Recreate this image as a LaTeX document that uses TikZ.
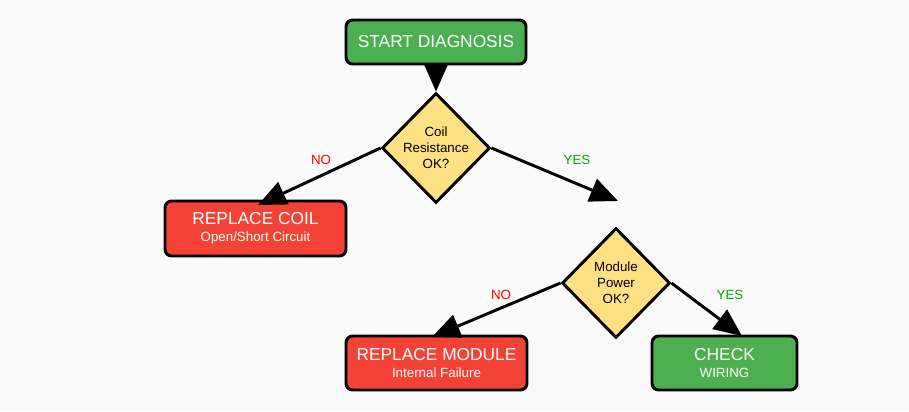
\documentclass[tikz,border=0pt]{standalone}
\usepackage{fontspec}
\setmainfont{Liberation Sans}
\usetikzlibrary{arrows.meta,shapes.geometric}
\definecolor{bg}{HTML}{FAFAFA}
\definecolor{grn}{HTML}{4CAF50}
\definecolor{rd}{HTML}{F44336}
\definecolor{yl}{HTML}{FFE082}
\definecolor{yes}{HTML}{00AA00}
\begin{document}
\begin{tikzpicture}[x=0.75pt,y=-0.75pt,
  box/.style={draw=black,line width=2.2pt,rounded corners=5pt,text=white,align=center,inner sep=0pt},
  dia/.style={draw=black,line width=2.2pt,fill=yl,diamond,minimum width=108*0.75pt,minimum height=110*0.75pt,inner sep=0pt,align=center,font=\fontsize{10}{12}\selectfont},
  arr/.style={line width=2.2pt,-{Triangle[length=21pt,width=18pt]}},
  lab/.style={font=\fontsize{10}{12}\selectfont}]
\fill[bg] (0,0) rectangle (909,411);
\node[box,fill=grn,minimum width=180*0.75pt,minimum height=44*0.75pt,font=\fontsize{13}{15}\selectfont] (start) at (436,42) {START DIAGNOSIS};
\node[dia] (d1) at (436,148) {Coil\\Resistance\\OK?};
\node[box,fill=rd,minimum width=181*0.75pt,minimum height=55*0.75pt] (coil) at (255.5,228.5) {{\fontsize{13}{15}\selectfont REPLACE COIL}\\[1pt]{\fontsize{10}{12}\selectfont Open/Short Circuit}};
\node[dia] (d2) at (616,283) {Module\\Power\\OK?};
\node[box,fill=rd,minimum width=181*0.75pt,minimum height=54*0.75pt] (mod) at (436.5,363) {{\fontsize{13}{15}\selectfont REPLACE MODULE}\\[1pt]{\fontsize{10}{12}\selectfont Internal Failure}};
\node[box,fill=grn,minimum width=145*0.75pt,minimum height=54*0.75pt] (chk) at (724.5,363) {{\fontsize{13}{15}\selectfont CHECK}\\[1pt]{\fontsize{10}{12}\selectfont WIRING}};
\coordinate (yesend) at (618,201);
\draw[arr] (start.south) -- (d1.north);
\draw[arr] (d1.west) -- (258,205);
\draw[arr] (d1.east) -- (yesend);
\draw[arr] (d2.west) -- (432,337);
\draw[arr] (d2.east) -- (742,336);
\node[lab,text=red] (n1) at (321,160) {NO};
\node[lab,text=yes] (y1) at (577,160) {YES};
\node[lab,text=red] (n2) at (501,295) {NO};
\node[lab,text=yes] (y2) at (730,295) {YES};
\end{tikzpicture}
\end{document}
